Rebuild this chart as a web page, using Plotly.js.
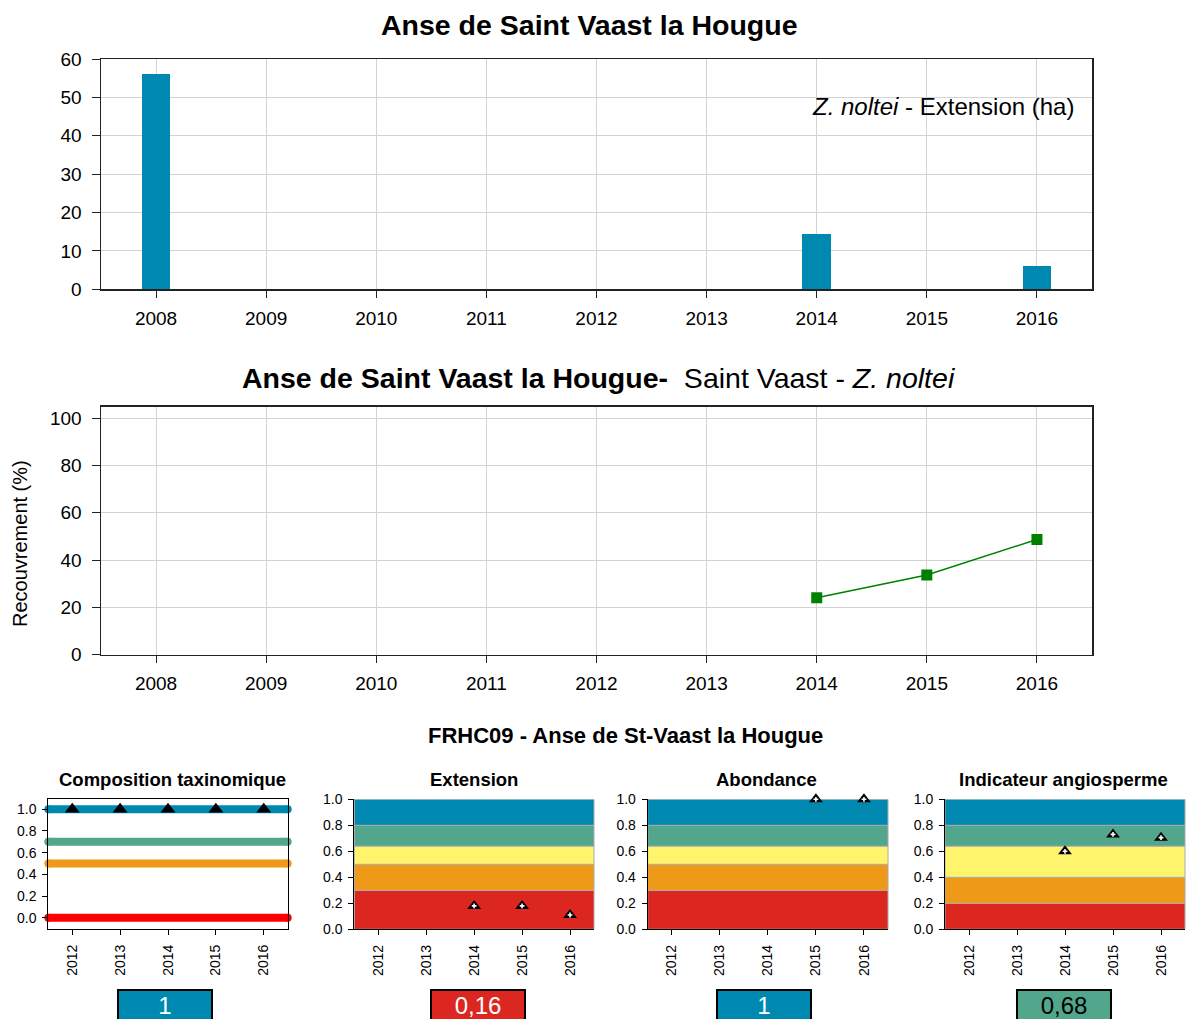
<!DOCTYPE html>
<html>
<head>
<meta charset="utf-8">
<script src="https://cdn.plot.ly/plotly-3.0.1.min.js"></script>
<style>html,body{margin:0;padding:0;background:#fff;}#chart{width:1186px;height:1019px;}</style>
</head>
<body>
<div id="chart"></div>
<script>
// ---------------- DATA ----------------
const mainYears = [2008, 2009, 2010, 2011, 2012, 2013, 2014, 2015, 2016];
const extensionHa = [56, null, null, null, null, null, 14.5, null, 6];

const coverYears = [2014, 2015, 2016];
const coverPercent = [24.1, 33.7, 48.7];

const indicYears = [2012, 2013, 2014, 2015, 2016];
const compositionEQR = [1, 1, 1, 1, 1];
const extensionEQR = [null, null, 0.18, 0.18, 0.11];
const abondanceEQR = [null, null, null, 1, 1];
const angioEQR = [null, null, 0.6, 0.73, 0.705];

const compositionThresholds = [1.0, 0.7, 0.5, 0.0];
const classBounds = [0, 0.3, 0.5, 0.64, 0.8, 1.0];
const angioBounds = [0, 0.2, 0.4, 0.64, 0.8, 1.0];

const panelTitles = ['Composition taxinomique', 'Extension', 'Abondance', 'Indicateur angiosperme'];
const finalScores = ['1', '0,16', '1', '0,68'];

const mainTitle = 'Anse de Saint Vaast la Hougue';
const coverTitle = '<b>Anse de Saint Vaast la Hougue-</b>  Saint Vaast - <i>Z. noltei</i>';
const extAnnot = '<i>Z. noltei</i> - Extension (ha)';
const coverYLabel = 'Recouvrement (%)';
const bottomTitle = 'FRHC09 - Anse de St-Vaast la Hougue';

// ---------------- STYLE ----------------
const BLUE = '#0089B0', GREEN = '#52A68B', YELLOW = '#FFF56C', ORANGE = '#EE9A18', RED = '#DB2720';
const classColors = [RED, ORANGE, YELLOW, GREEN, BLUE];
const compColors = [BLUE, GREEN, ORANGE, '#FF0000'];
const scoreFill = [BLUE, RED, BLUE, GREEN];
const scoreText = ['#fff', '#fff', '#fff', '#000'];
const FONT = 'Liberation Sans, Arial, Helvetica, sans-serif';
const W = 1186, H = 1019;
const px = v => v / W;
const py = v => 1 - v / H;

const data = [];
// top bars
data.push({type: 'bar', x: mainYears, y: extensionHa, xaxis: 'x', yaxis: 'y',
  width: 0.26, marker: {color: BLUE, line: {width: 0}}, hoverinfo: 'x+y'});
// cover line
data.push({type: 'scatter', mode: 'lines+markers', x: coverYears, y: coverPercent, xaxis: 'x2', yaxis: 'y2',
  line: {color: '#008000', width: 1.5}, marker: {symbol: 'square', size: 11, color: '#008000'}});
// composition triangles
data.push({type: 'scatter', mode: 'markers', x: indicYears, y: compositionEQR, xaxis: 'x3', yaxis: 'y3',
  marker: {symbol: 'triangle-up', size: 13, color: '#000'}, cliponaxis: false});
// indicator panels
const panelSeries = [extensionEQR, abondanceEQR, angioEQR];
panelSeries.forEach((s, i) => {
  const xa = 'x' + (i + 4), ya = 'y' + (i + 4);
  data.push({type: 'scatter', mode: 'markers', x: indicYears, y: s, xaxis: xa, yaxis: ya, cliponaxis: false,
    marker: {symbol: 'triangle-up', size: 12, color: '#000'}});
  data.push({type: 'scatter', mode: 'markers', x: indicYears, y: s, xaxis: xa, yaxis: ya, cliponaxis: false,
    marker: {symbol: 'cross', size: 4, color: '#fff', line: {width: 0}}});
});
data.forEach(t => t.showlegend = false);

const shapes = [];
// composition thresholds (thick lines with round ends)
compositionThresholds.forEach((v, i) => {
  shapes.push({type: 'line', xref: 'x3 domain', yref: 'y3', x0: 0, x1: 1, y0: v, y1: v,
    line: {color: compColors[i], width: 8}, layer: 'below'});
  [0, 1].forEach(e => shapes.push({type: 'circle', xref: 'x3 domain', yref: 'y3',
    xsizemode: 'pixel', ysizemode: 'pixel', xanchor: e, yanchor: v, x0: -4, x1: 4, y0: -4, y1: 4,
    fillcolor: compColors[i], line: {width: 0}, layer: 'below'}));
});
// quality bands
[classBounds, classBounds, angioBounds].forEach((b, p) => {
  for (let k = 0; k < 5; k++) {
    shapes.push({type: 'rect', xref: 'x' + (p + 4) + ' domain', yref: 'y' + (p + 4),
      x0: 0, x1: 1, y0: b[k], y1: b[k + 1], fillcolor: classColors[k],
      line: {color: '#AAAAAA', width: 1}, layer: 'below'});
  }
});

const annotations = [];
annotations.push({xref: 'paper', yref: 'paper', x: px(589), y: py(25), text: '<b>' + mainTitle + '</b>',
  showarrow: false, font: {size: 28.5, family: FONT, color: '#000'}, xanchor: 'center', yanchor: 'middle'});
annotations.push({xref: 'paper', yref: 'paper', x: px(1076), y: py(106), text: extAnnot,
  showarrow: false, font: {size: 24, family: FONT, color: '#000'}, xanchor: 'right', yanchor: 'middle'});
annotations.push({xref: 'paper', yref: 'paper', x: px(598), y: py(378), text: coverTitle,
  showarrow: false, font: {size: 28.5, family: FONT, color: '#000'}, xanchor: 'center', yanchor: 'middle'});
annotations.push({xref: 'paper', yref: 'paper', x: px(20), y: py(544), text: coverYLabel, textangle: -90,
  showarrow: false, font: {size: 20, family: FONT, color: '#000'}, xanchor: 'center', yanchor: 'middle'});
annotations.push({xref: 'paper', yref: 'paper', x: px(625), y: py(735), text: '<b>' + bottomTitle + '</b>',
  showarrow: false, font: {size: 22, family: FONT, color: '#000'}, xanchor: 'center', yanchor: 'middle'});

const panelX = [[48.3, 287.7], [354.3, 594], [647.7, 888], [945, 1185]];
const titleX = [172, 474, 766, 1063];
const boxX = [164.5, 477.5, 764.3, 1064.2];
panelTitles.forEach((t, i) => {
  annotations.push({xref: 'paper', yref: 'paper', x: px(titleX[i]), y: py(779), text: '<b>' + t + '</b>',
    showarrow: false, font: {size: 18.5, family: FONT, color: '#000'}, xanchor: 'center', yanchor: 'middle'});
  annotations.push({xref: 'paper', yref: 'paper', x: px(boxX[i]), y: py(989), text: finalScores[i],
    showarrow: false, font: {size: 24, family: FONT, color: scoreText[i]}, xanchor: 'center', yanchor: 'top',
    width: 92, height: 28, bgcolor: scoreFill[i], bordercolor: '#000', borderwidth: 2, borderpad: 0, valign: 'middle'});
});

const tickFont = {size: 19, family: FONT, color: '#000'};
const smallTick = {size: 14, family: FONT, color: '#000'};
function mainX(anchor) {
  return {domain: [px(101), px(1092)], anchor: anchor, range: [2007.5, 2016.5], tickmode: 'array',
    tickvals: mainYears, ticktext: mainYears.map(String), ticks: 'outside', ticklen: 7, tickcolor: '#222',
    showline: true, linecolor: '#222', linewidth: 1.5, mirror: true, showgrid: true, gridcolor: '#D3D3D3',
    gridwidth: 1, zeroline: false, tickfont: tickFont, ticklabelstandoff: 4, fixedrange: true};
}
function mainY(anchor, top, bottom, range, dtick) {
  return {domain: [py(bottom), py(top)], anchor: anchor, range: range, tick0: 0, dtick: dtick,
    ticks: 'outside', ticklen: 8, tickcolor: '#222', showline: true, linecolor: '#222', linewidth: 1.5,
    mirror: true, showgrid: true, gridcolor: '#D3D3D3', gridwidth: 1, zeroline: false, tickfont: tickFont,
    ticklabelstandoff: 6, fixedrange: true};
}
function panelXAxis(i, anchor, full) {
  return {domain: [px(panelX[i][0]), px(panelX[i][1])], anchor: anchor, range: [2011.5, 2016.5],
    tickmode: 'array', tickvals: indicYears, ticktext: indicYears.map(String), tickangle: -90,
    ticks: 'outside', ticklen: 5, tickcolor: '#000', showline: true, linecolor: '#000', linewidth: 1,
    mirror: full, showgrid: false, zeroline: false, tickfont: smallTick, ticklabelstandoff: 4, fixedrange: true};
}
function panelYAxis(anchor, top, bottom, range, full) {
  return {domain: [py(bottom), py(top)], anchor: anchor, range: range, tick0: 0, dtick: 0.2, tickformat: '.1f',
    ticks: 'outside', ticklen: 5, tickcolor: '#000', showline: true, linecolor: '#000', linewidth: 1,
    mirror: full, showgrid: false, zeroline: false, tickfont: smallTick, ticklabelstandoff: 3, fixedrange: true};
}

const layout = {
  width: W, height: H, margin: {l: 0, r: 0, t: 0, b: 0, pad: 0},
  paper_bgcolor: '#fff', plot_bgcolor: '#fff', font: {family: FONT, color: '#000'},
  showlegend: false, bargap: 0,
  xaxis: mainX('y'), yaxis: mainY('x', 59, 289.3, [0, 60], 10),
  xaxis2: mainX('y2'), yaxis2: mainY('x2', 406.7, 654.7, [0, 104.8], 20),
  xaxis3: panelXAxis(0, 'y3', true), yaxis3: panelYAxis('x3', 799.3, 929, [-0.104, 1.092], true),
  xaxis4: panelXAxis(1, 'y4', false), yaxis4: panelYAxis('x4', 799.3, 929.3, [0, 1], false),
  xaxis5: panelXAxis(2, 'y5', false), yaxis5: panelYAxis('x5', 799.3, 929.3, [0, 1], false),
  xaxis6: panelXAxis(3, 'y6', false), yaxis6: panelYAxis('x6', 799.3, 929.3, [0, 1], false),
  shapes: shapes, annotations: annotations
};

Plotly.newPlot('chart', data, layout, {displayModeBar: false, staticPlot: true});
</script>
</body>
</html>
